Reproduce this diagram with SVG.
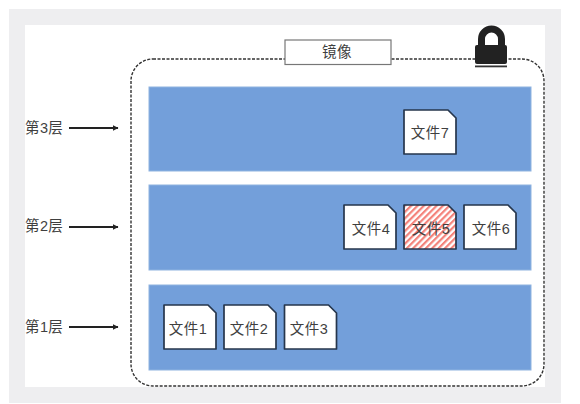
<svg xmlns="http://www.w3.org/2000/svg" width="580" height="404" viewBox="0 0 580 404">
<style>
text{font-family:"Liberation Sans","Noto Sans CJK SC",sans-serif;font-size:14.500px;letter-spacing:.4px;fill:#3f3f3f}
.m{text-anchor:middle}
.layer{fill:#739fda;stroke:#8fb3e0;stroke-width:1}
.doc{fill:#fff;stroke:#26364c;stroke-width:1.700;stroke-linejoin:round}
.conn{stroke:#222;stroke-width:2;fill:none;marker-end:url(#a)}
</style>
<defs>
<marker id="a" markerWidth="7" markerHeight="7" refX="5.500" refY="3" orient="auto" markerUnits="userSpaceOnUse"><path d="M0 0L6 3L0 6Z" fill="#222"/></marker>
<pattern id="h" width="4.500" height="4.500" patternUnits="userSpaceOnUse" patternTransform="rotate(-45)"><rect width="4.500" height="4.500" fill="#fff"/><rect width="4.500" height="2.200" fill="#f4827a"/></pattern>
<path id="d" d="M0 0H44L52 8V44H0Z"/>
</defs>
<rect x="9" y="9" width="552" height="394" fill="#eeeef0"/>
<rect x="25" y="25" width="520" height="362" fill="#fff"/>
<g id="image-frame"><rect x="131" y="59" width="413" height="327" rx="22" fill="none" stroke="#333" stroke-width="1.400" stroke-dasharray="3 1.500"/></g>
<g id="layer3"><rect class="layer" x="149" y="87" width="382" height="84"/></g>
<g id="layer2"><rect class="layer" x="149" y="185" width="382" height="85"/></g>
<g id="layer1"><rect class="layer" x="149" y="285" width="382" height="85"/></g>
<g id="image-label"><rect x="285" y="40" width="106" height="24.500" fill="#fff" stroke="#777" stroke-width="1.200"/><text class="m" x="337" y="57">镜像</text></g>
<g id="lock">
<path d="M481.500 47V39A10 10 0 0 1 501.500 39V47" fill="none" stroke="#222" stroke-width="7"/>
<rect x="475" y="45" width="32" height="19" rx="2" fill="#222"/>
<rect x="475" y="65.500" width="32" height="1.800" fill="#333"/>
</g>
<g id="file7"><use href="#d" x="404" y="110" class="doc"/><text class="m" x="430" y="138">文件7</text></g>
<g id="file4"><use href="#d" x="344" y="205" class="doc"/><text class="m" x="371" y="234">文件4</text></g>
<g id="file5"><use href="#d" x="404" y="205" class="doc" style="fill:url(#h)"/><text class="m" x="431" y="234">文件5</text></g>
<g id="file6"><use href="#d" x="464" y="205" class="doc"/><text class="m" x="491" y="234">文件6</text></g>
<g id="file1"><use href="#d" x="164" y="305" class="doc"/><text class="m" x="188" y="334">文件1</text></g>
<g id="file2"><use href="#d" x="224" y="305" class="doc"/><text class="m" x="249" y="334">文件2</text></g>
<g id="file3"><use href="#d" x="284.500" y="305" class="doc"/><text class="m" x="309" y="334">文件3</text></g>
<g id="label3"><text x="25" y="133">第3层</text></g>
<g id="label2"><text x="25" y="231">第2层</text></g>
<g id="label1"><text x="25" y="332">第1层</text></g>
<g id="connectors">
<path class="conn" d="M69 128H118"/>
<path class="conn" d="M69 227H118"/>
<path class="conn" d="M69 327H118"/>
</g>
</svg>
